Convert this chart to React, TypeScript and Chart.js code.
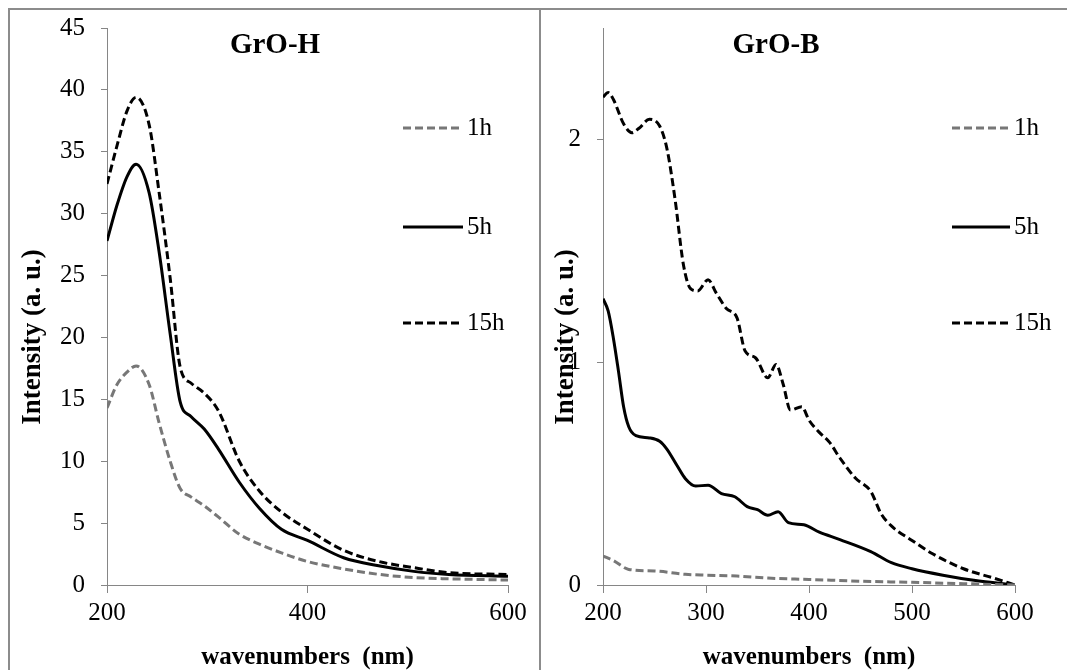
import React, { useEffect, useRef } from "react";
import { Chart, registerables } from "chart.js";

Chart.register(...registerables);

const FONT = "'Liberation Serif', 'Times New Roman', serif";
const AXIS_COLOR = "#868686";
const GRAY_LINE = "#777777";
const BLACK_LINE = "#000000";

// ---------- GrO-H data ----------
const H_X = [200, 210, 220, 229, 242, 252, 263, 273, 284, 297, 311, 332, 352, 374, 400, 436, 471, 506, 541, 600];
const H_1h = [14.3, 16.2, 17.2, 17.7, 16.2, 13.1, 10.0, 7.8, 7.1, 6.4, 5.5, 4.1, 3.3, 2.6, 1.9, 1.3, 0.86, 0.6, 0.5, 0.4];
const H_5h = [27.8, 30.7, 33.0, 34.0, 31.7, 26.9, 20.3, 14.8, 13.6, 12.6, 11.0, 8.3, 6.2, 4.5, 3.6, 2.2, 1.55, 1.1, 0.85, 0.7];
const H_15h = [32.4, 35.5, 38.3, 39.4, 37.2, 31.7, 24.8, 17.6, 16.3, 15.5, 14.1, 10.0, 7.6, 5.9, 4.5, 2.8, 1.9, 1.4, 1.0, 0.85];

// ---------- GrO-B data ----------
const B_X_1h = [200, 210, 225, 250, 280, 300, 330, 360, 400, 450, 500, 550, 600];
const B_1h = [0.13, 0.11, 0.07, 0.063, 0.048, 0.044, 0.04, 0.031, 0.025, 0.017, 0.012, 0.006, 0.0];
const B_X_5h = [200, 205, 210, 215, 220, 225, 232, 245, 255, 262, 272, 280, 290, 302, 315, 328, 340, 350, 360, 370, 380, 395, 410, 430, 460, 480, 500, 530, 560, 600];
const B_5h = [1.285, 1.23, 1.11, 0.96, 0.8, 0.71, 0.67, 0.66, 0.645, 0.61, 0.535, 0.477, 0.444, 0.448, 0.41, 0.396, 0.352, 0.338, 0.313, 0.329, 0.28, 0.27, 0.237, 0.204, 0.15, 0.1, 0.073, 0.044, 0.021, 0.0];
const B_X_15h = [200, 205, 210, 220, 228, 235, 245, 255, 262, 270, 278, 285, 292, 302, 310, 320, 330, 338, 348, 360, 368, 375, 382, 393, 400, 410, 420, 430, 445, 460, 470, 480, 500, 520, 550, 580, 600];
const B_15h = [2.19, 2.21, 2.18, 2.07, 2.03, 2.05, 2.09, 2.06, 1.96, 1.73, 1.44, 1.33, 1.32, 1.37, 1.31, 1.24, 1.2, 1.05, 1.02, 0.93, 0.99, 0.9, 0.785, 0.8, 0.74, 0.685, 0.64, 0.57, 0.48, 0.42, 0.32, 0.265, 0.2, 0.14, 0.073, 0.03, 0.0];

const SERIES_LABELS = ["1h", "5h", "15h"];
const H_Y_TICKS = [0, 5, 10, 15, 20, 25, 30, 35, 40, 45];
const B_Y_TICKS = [0, 1, 2];

const zip = (xs: number[], ys: number[]) => xs.map((x, i) => ({ x, y: ys[i] }));

const styles = [
  { borderColor: GRAY_LINE, borderDash: [8, 4], borderWidth: 3 },
  { borderColor: BLACK_LINE, borderDash: [], borderWidth: 3 },
  { borderColor: BLACK_LINE, borderDash: [8, 4], borderWidth: 3 },
];

const overlayPlugin = {
  id: "overlay",
  afterDraw(chart: any, _args: any, opts: any) {
    const ctx = chart.ctx;
    ctx.save();
    ctx.fillStyle = "#000";
    ctx.font = `bold ${opts.titleSize}px ${FONT}`;
    ctx.textAlign = "center";
    ctx.textBaseline = "middle";
    ctx.fillText(opts.title, opts.titleX, opts.titleY);
    ctx.save();
    ctx.translate(opts.yTitleX, opts.yTitleY);
    ctx.rotate(-Math.PI / 2);
    ctx.font = `bold ${opts.axisTitleSize}px ${FONT}`;
    ctx.fillText("Intensity (a. u.)", 0, 0);
    ctx.restore();
    chart.data.datasets.forEach((ds: any, i: number) => {
      const y = opts.legendY[i];
      ctx.beginPath();
      ctx.strokeStyle = ds.borderColor;
      ctx.lineWidth = ds.borderWidth;
      ctx.setLineDash(ds.borderDash || []);
      ctx.moveTo(opts.legendX0, y);
      ctx.lineTo(opts.legendX1, y);
      ctx.stroke();
      ctx.setLineDash([]);
      ctx.fillStyle = "#000";
      ctx.font = `${opts.legendSize}px ${FONT}`;
      ctx.textAlign = "left";
      ctx.textBaseline = "middle";
      ctx.fillText(ds.label, opts.legendX1 + 4, y);
    });
    ctx.restore();
  },
};

type PanelProps = {
  left: number;
  top: number;
  width: number;
  height: number;
  datasets: any[];
  xStep: number;
  yMax: number;
  yTicks: number[];
  yAxisWidth: number;
  padRight: number;
  overlay: any;
};

function Panel(p: PanelProps) {
  const ref = useRef<HTMLCanvasElement | null>(null);
  useEffect(() => {
    if (!ref.current) return;
    const tickFont = { family: FONT, size: 25 };
    const chart = new Chart(ref.current, {
      type: "line",
      data: { datasets: p.datasets },
      plugins: [overlayPlugin],
      options: {
        animation: false,
        responsive: false,
        maintainAspectRatio: false,
        layout: { padding: { top: 18, right: p.padRight, bottom: 0, left: 0 } },
        elements: { point: { radius: 0 }, line: { cubicInterpolationMode: "monotone" } },
        plugins: {
          legend: { display: false },
          tooltip: { enabled: false },
          overlay: p.overlay,
        } as any,
        scales: {
          x: {
            type: "linear",
            min: 200,
            max: 600,
            ticks: { stepSize: p.xStep, color: "#000", font: tickFont, padding: 5, maxRotation: 0 },
            grid: { display: true, drawOnChartArea: false, drawTicks: true, tickLength: 8, color: AXIS_COLOR },
            border: { display: true, color: AXIS_COLOR, width: 1 },
            title: {
              display: true,
              text: "wavenumbers  (nm)",
              color: "#000",
              font: { family: FONT, size: 25, weight: "bold", lineHeight: 1.0 },
              padding: { top: 0, bottom: 0 },
            },
            afterFit: (s: any) => {
              s.height = 85;
              s.paddingLeft = 0;
              s.paddingRight = 0;
            },
          },
          y: {
            type: "linear",
            min: 0,
            max: p.yMax,
            afterBuildTicks: (s: any) => {
              s.ticks = p.yTicks.map((v) => ({ value: v }));
            },
            ticks: { color: "#000", font: tickFont, padding: 16 },
            grid: { display: true, drawOnChartArea: false, drawTicks: true, tickLength: 6, color: AXIS_COLOR },
            border: { display: true, color: AXIS_COLOR, width: 1 },
            afterFit: (s: any) => {
              s.width = p.yAxisWidth;
              s.paddingTop = 0;
              s.paddingBottom = 0;
            },
          },
        },
      } as any,
    });
    return () => chart.destroy();
  }, []);
  return (
    <canvas
      ref={ref}
      width={p.width}
      height={p.height}
      style={{ position: "absolute", left: p.left, top: p.top, width: p.width, height: p.height }}
    />
  );
}

const hDatasets = [H_1h, H_5h, H_15h].map((ys, i) => ({
  label: SERIES_LABELS[i],
  data: zip(H_X, ys),
  fill: false,
  ...styles[i],
}));

const bDatasets = [zip(B_X_1h, B_1h), zip(B_X_5h, B_5h), zip(B_X_15h, B_15h)].map((d, i) => ({
  label: SERIES_LABELS[i],
  data: d,
  fill: false,
  ...styles[i],
}));

export default function App() {
  return (
    <div style={{ position: "fixed", left: 0, top: 0, width: 1067, height: 670, overflow: "hidden", background: "#fff" }}>
      <div
        style={{
          position: "absolute",
          left: 8,
          top: 8,
          width: 1100,
          height: 700,
          borderTop: "2px solid #8c8c8c",
          borderLeft: "2px solid #8c8c8c",
        }}
      />
      <div style={{ position: "absolute", left: 539, top: 8, width: 2, height: 700, background: "#8c8c8c" }} />
      <Panel
        left={10}
        top={10}
        width={529}
        height={660}
        datasets={hDatasets}
        xStep={200}
        yMax={45}
        yTicks={H_Y_TICKS}
        yAxisWidth={97}
        padRight={31}
        overlay={{
          title: "GrO-H",
          titleX: 265,
          titleY: 36,
          titleSize: 29,
          yTitleX: 23,
          yTitleY: 327,
          axisTitleSize: 27,
          legendX0: 393,
          legendX1: 453,
          legendY: [118, 217, 313],
          legendSize: 25,
        }}
      />
      <Panel
        left={543}
        top={10}
        width={524}
        height={660}
        datasets={bDatasets}
        xStep={100}
        yMax={2.5}
        yTicks={B_Y_TICKS}
        yAxisWidth={60}
        padRight={52}
        overlay={{
          title: "GrO-B",
          titleX: 233,
          titleY: 36,
          titleSize: 29,
          yTitleX: 23,
          yTitleY: 327,
          axisTitleSize: 27,
          legendX0: 409,
          legendX1: 467,
          legendY: [118, 217, 313],
          legendSize: 25,
        }}
      />
    </div>
  );
}
